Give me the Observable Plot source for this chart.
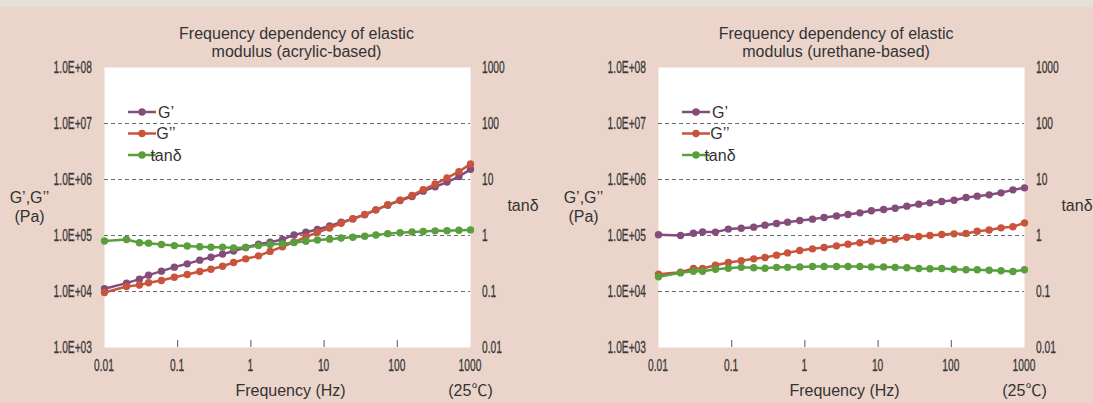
<!DOCTYPE html>
<html><head><meta charset="utf-8">
<script src="https://cdn.jsdelivr.net/npm/d3@7"></script>
<script src="https://cdn.jsdelivr.net/npm/@observablehq/plot@0.6"></script>
<style>
html,body{margin:0;padding:0;background:#ebd5cb;}
#wrap{position:relative;width:1093px;height:403px;overflow:hidden;background:#ebd5cb;}
#strip{position:absolute;left:0;top:0;width:1093px;height:7px;background:#e4e0da;}
#charts{position:absolute;left:0;top:0;display:flex;width:1108px;}
#charts svg{flex:none;}
</style></head><body>
<div id="wrap"><div id="strip"></div><div id="charts"></div></div>
<script>
// ---- data ----
const frequency = [0.01, 0.02, 0.03, 0.04, 0.06, 0.09, 0.135, 0.2, 0.285, 0.41, 0.58, 0.85, 1.27, 1.83, 2.7, 3.88, 5.64, 8.1, 11.9, 17.1, 24.7, 35.9, 51, 74, 109, 159, 226, 329, 478, 695, 1000];

const acrylicGp  = [1.12e4, 1.41e4, 1.66e4, 1.96e4, 2.31e4, 2.72e4, 3.12e4, 3.63e4, 4.1e4, 4.65e4, 5.3e4, 6.1e4, 7.0e4, 7.6e4, 8.5e4, 1.02e5, 1.14e5, 1.28e5, 1.48e5, 1.72e5, 1.98e5, 2.34e5, 2.87e5, 3.48e5, 4.22e5, 4.95e5, 6.2e5, 7.4e5, 9.0e5, 1.13e6, 1.52e6];
const acrylicGpp = [9.6e3, 1.23e4, 1.31e4, 1.43e4, 1.57e4, 1.8e4, 2.01e4, 2.28e4, 2.5e4, 2.83e4, 3.3e4, 3.83e4, 4.33e4, 5.2e4, 6.3e4, 7.6e4, 9.4e4, 1.14e5, 1.36e5, 1.65e5, 2.0e5, 2.38e5, 2.87e5, 3.53e5, 4.28e5, 5.2e5, 6.6e5, 8.3e5, 1.07e6, 1.38e6, 1.9e6];
const acrylicTan = [0.80, 0.85, 0.74, 0.73, 0.69, 0.66, 0.65, 0.63, 0.62, 0.62, 0.60, 0.61, 0.66, 0.69, 0.71, 0.75, 0.79, 0.83, 0.86, 0.90, 0.93, 0.97, 1.02, 1.08, 1.12, 1.16, 1.18, 1.21, 1.22, 1.24, 1.26];

const urethaneGp  = [1.03e5, 1.0e5, 1.1e5, 1.16e5, 1.15e5, 1.3e5, 1.35e5, 1.41e5, 1.53e5, 1.64e5, 1.73e5, 1.85e5, 1.96e5, 2.1e5, 2.24e5, 2.37e5, 2.54e5, 2.76e5, 2.91e5, 3.07e5, 3.34e5, 3.63e5, 3.83e5, 4.05e5, 4.27e5, 4.77e5, 5.04e5, 5.32e5, 5.78e5, 6.53e5, 7.1e5];
const urethaneGpp = [2.04e4, 2.21e4, 2.58e4, 2.58e4, 2.95e4, 3.3e4, 3.53e4, 3.83e4, 4.05e4, 4.46e4, 4.9e4, 5.4e4, 5.78e4, 6.1e4, 6.54e4, 7.0e4, 7.4e4, 7.9e4, 8.15e4, 8.6e4, 9.3e4, 9.6e4, 1.0e5, 1.04e5, 1.07e5, 1.09e5, 1.19e5, 1.25e5, 1.37e5, 1.43e5, 1.68e5];
const urethaneTan = [0.183, 0.215, 0.23, 0.23, 0.25, 0.26, 0.27, 0.265, 0.26, 0.27, 0.27, 0.275, 0.28, 0.28, 0.28, 0.28, 0.28, 0.275, 0.275, 0.27, 0.265, 0.258, 0.255, 0.258, 0.25, 0.244, 0.244, 0.24, 0.235, 0.228, 0.244];

const seriesNames = ["G’", "G’’", "tanδ"];
const seriesColors = ["#844c7a", "#c8543c", "#5b9e3e"];
const titles = ["Frequency dependency of elastic\nmodulus (acrylic-based)", "Frequency dependency of elastic\nmodulus (urethane-based)"];

const xTicks = [0.01, 0.1, 1, 10, 100, 1000];
const xTickLabels = ["0.01", "0.1", "1", "10", "100", "1000"];
const xInnerTicks = [0.1, 1, 10, 100];
const yTicks = [1e3, 1e4, 1e5, 1e6, 1e7, 1e8];
const yTickLabels = ["1.0E+03", "1.0E+04", "1.0E+05", "1.0E+06", "1.0E+07", "1.0E+08"];
const tanTickLabels = ["0.01", "0.1", "1", "10", "100", "1000"];
const gridValues = [1e4, 1e5, 1e6, 1e7];
const tanToModulus = 1e5; // tanδ = 1 aligns with 1.0E+05

const sans = "'Liberation Sans', Arial, 'Noto Sans CJK JP', sans-serif";
const M = {left: 104, right: 84, top: 67, bottom: 56, width: 554, height: 403};
const condense = 0.62;

function panel(title, titleDx, gp, gpp, tan) {
  const rows = frequency.map((f, i) => ({f, gp: gp[i], gpp: gpp[i], tan: tan[i] * tanToModulus}));
  const svg = Plot.plot({
    width: M.width, height: M.height,
    marginLeft: M.left, marginRight: M.right, marginTop: M.top, marginBottom: M.bottom,
    style: {background: "transparent", fontFamily: sans, fontSize: "16px", color: "#333", overflow: "visible"},
    x: {type: "log", domain: [0.01, 1000], axis: null},
    y: {type: "log", domain: [1e3, 1e8], axis: null},
    marks: [
      Plot.frame({fill: "white", stroke: null}),
      Plot.ruleY(gridValues, {stroke: "#6e6e6e", strokeDasharray: "4,3", strokeWidth: 1}),
      Plot.tickX(xInnerTicks, {x: d => d, insetTop: 273, stroke: "#555", strokeWidth: 1}),
      Plot.line(rows, {x: "f", y: "gp", stroke: seriesColors[0], strokeWidth: 2.5}),
      Plot.dot(rows, {x: "f", y: "gp", fill: seriesColors[0], r: 3.7}),
      Plot.line(rows, {x: "f", y: "gpp", stroke: seriesColors[1], strokeWidth: 2.5}),
      Plot.dot(rows, {x: "f", y: "gpp", fill: seriesColors[1], r: 3.7}),
      Plot.line(rows, {x: "f", y: "tan", stroke: seriesColors[2], strokeWidth: 2.5}),
      Plot.dot(rows, {x: "f", y: "tan", fill: seriesColors[2], r: 3.7}),
      Plot.text([title], {frameAnchor: "top", dx: titleDx, dy: -41.7, lineAnchor: "top", lineHeight: 1.145, fontSize: 16, fontFamily: sans, fill: "#333"}),
      Plot.text(["G’,G’’\n(Pa)"], {frameAnchor: "left", dx: -75, dy: -18, lineAnchor: "top", lineHeight: 1.2, textAnchor: "middle", fontSize: 16, fontFamily: sans, fill: "#333"}),
      Plot.text(["tanδ"], {frameAnchor: "right", dx: 52.5, dy: -1.5, textAnchor: "middle", fontSize: 16, fontFamily: sans, fill: "#333"}),
      Plot.text(["Frequency (Hz)"], {frameAnchor: "bottom", dx: 3, dy: 48, fontSize: 16, fontFamily: sans, fill: "#333"}),
      Plot.text(["(25℃)"], {frameAnchor: "bottom-right", dx: 0, dy: 48, textAnchor: "middle", fontSize: 16, fontFamily: sans, fill: "#333"})
    ]
  });
  const sx = svg.scale("x"), sy = svg.scale("y");
  const root = d3.select(svg);
  // tick labels drawn through the plot's own scales, condensed horizontally
  const ticks = root.append("g").attr("class", "ticklabels")
    .attr("font-family", sans).attr("fill", "#383838").attr("stroke", "#383838").attr("stroke-width", 0.3);
  const label = (x, y, anchor, s) => ticks.append("text")
    .attr("transform", `translate(${x},${y}) scale(${condense},1)`)
    .attr("font-size", 16.5).style("font-size", "16.5px")
    .attr("dy", "0.35em").attr("text-anchor", anchor).text(s);
  yTicks.forEach((v, i) => {
    label(M.left - 12, sy.apply(v), "end", yTickLabels[i]);
    label(M.width - M.right + 12, sy.apply(v), "start", tanTickLabels[i]);
  });
  xTicks.forEach((v, i) => label(sx.apply(v), M.height - M.bottom + 18, "middle", xTickLabels[i]));
  // legend
  const g = root.append("g");
  const legendRows = [112, 133.5, 155];
  seriesNames.forEach((name, i) => {
    const y = legendRows[i];
    g.append("line").attr("x1", 128).attr("x2", 156).attr("y1", y).attr("y2", y)
      .attr("stroke", seriesColors[i]).attr("stroke-width", 2.5);
    g.append("circle").attr("cx", 142).attr("cy", y).attr("r", 3.7).attr("fill", seriesColors[i]);
    g.append("text").attr("x", 166).attr("y", y).attr("dy", "0.35em")
      .attr("font-family", sans).attr("font-size", 16).attr("fill", "#333").text(name);
  });
  return svg;
}

const host = document.getElementById("charts");
host.appendChild(panel(titles[0], 9, acrylicGp, acrylicGpp, acrylicTan));
host.appendChild(panel(titles[1], -5.4, urethaneGp, urethaneGpp, urethaneTan));
</script>
</body></html>
